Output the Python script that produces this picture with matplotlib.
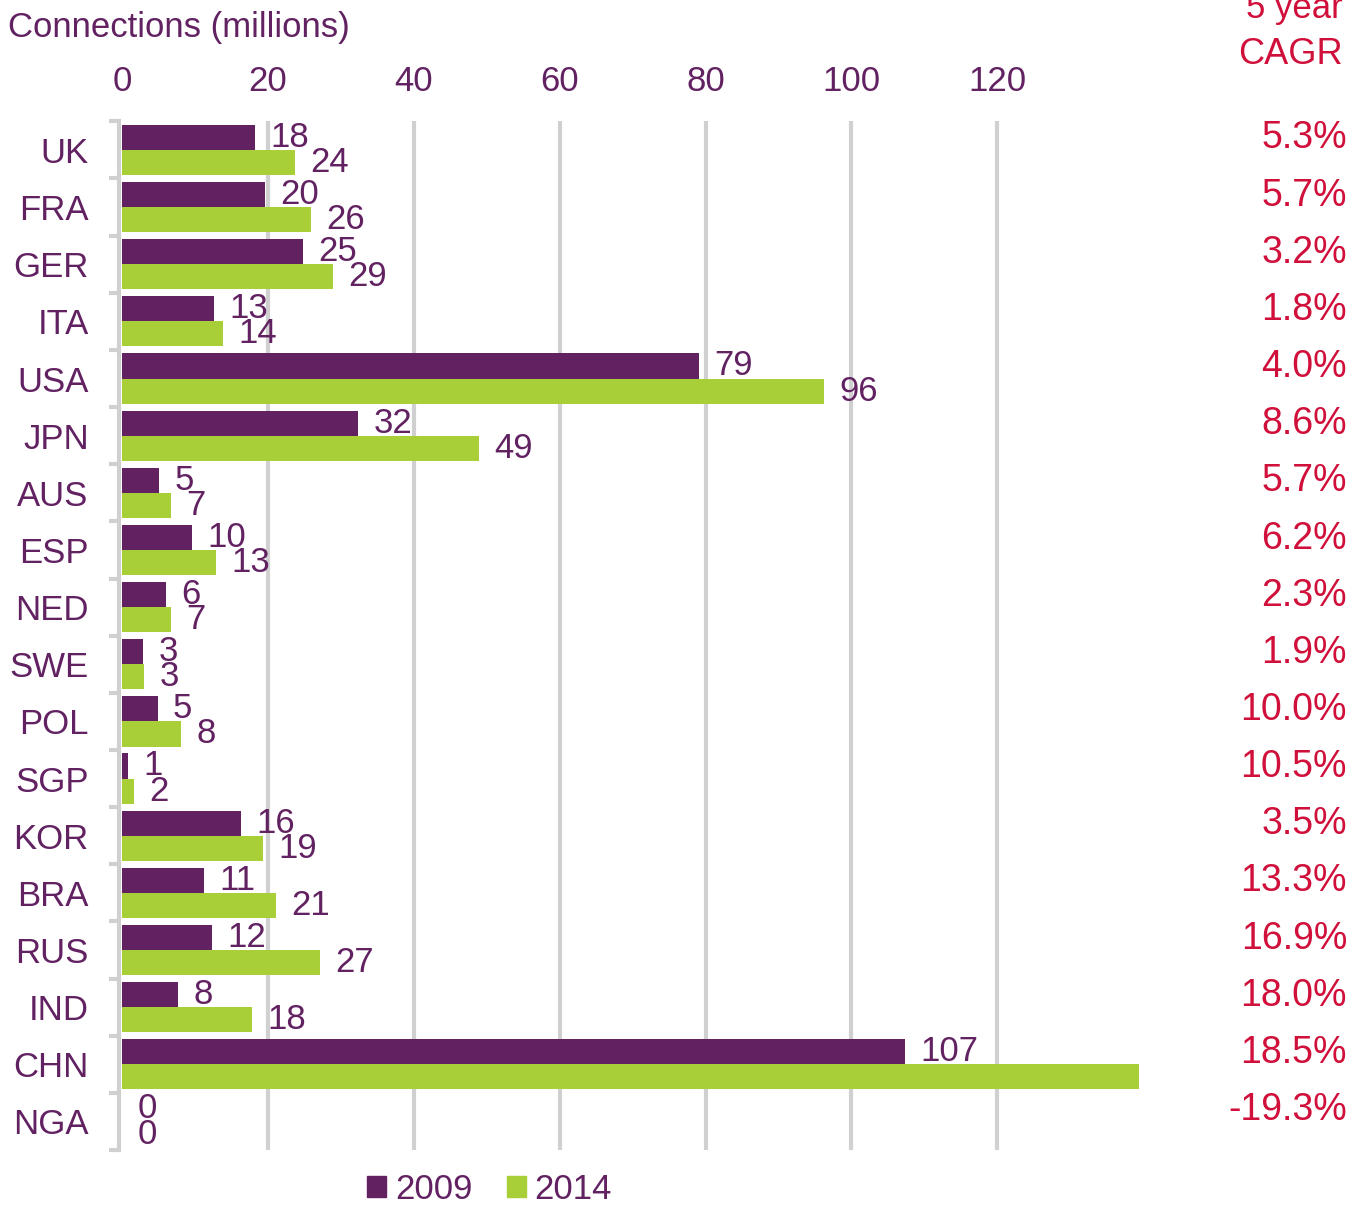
import numpy as np
import matplotlib
matplotlib.use("Agg")
import matplotlib.pyplot as plt
from matplotlib.patches import Patch

plt.rcParams['font.family'] = ['Liberation Sans', 'DejaVu Sans']

countries = ["UK", "FRA", "GER", "ITA", "USA", "JPN", "AUS", "ESP", "NED",
             "SWE", "POL", "SGP", "KOR", "BRA", "RUS", "IND", "CHN", "NGA"]
conn_2009 = [18.2, 19.6, 24.8, 12.6, 79.1, 32.4, 5.1, 9.6, 6.0,
             2.9, 4.9, 0.8, 16.3, 11.2, 12.3, 7.7, 107.4, 0.0]
conn_2014 = [23.7, 25.9, 28.9, 13.9, 96.2, 49.0, 6.7, 12.9, 6.7,
             3.0, 8.1, 1.6, 19.3, 21.1, 27.2, 17.8, 139.4, 0.0]
cagr = ["5.3%", "5.7%", "3.2%", "1.8%", "4.0%", "8.6%", "5.7%", "6.2%", "2.3%",
        "1.9%", "10.0%", "10.5%", "3.5%", "13.3%", "16.9%", "18.0%", "18.5%", "-19.3%"]
xticks = [0, 20, 40, 60, 80, 100, 120]

purple = "#622262"
green = "#A8CE38"
red = "#D0103A"
grid_gray = "#D0D0D0"

fig = plt.figure(figsize=(13.56, 12.06), dpi=100)
ax = fig.add_axes([0.090, 0.0464, 0.753, 0.853])

y = np.arange(len(countries))
h = 0.44
b1 = ax.barh(y - 0.22, conn_2009, height=h, color=purple, zorder=3)
b2 = ax.barh(y + 0.22, conn_2014, height=h, color=green, zorder=3)

# value labels; the CHN 2014 one falls outside the axes and is clipped like the original
for bars, vals in ((b1, conn_2009), (b2, conn_2014)):
    for rect, v in zip(bars, vals):
        ax.annotate(f"{v:.0f}", (rect.get_width(), rect.get_y() + rect.get_height() / 2),
                    xytext=(11, 0), textcoords="offset points", ha="left", va="center",
                    fontsize=25, color=purple, clip_on=True, zorder=4)

ax.set_xlim(0, 140)
ax.set_ylim(len(countries) - 0.5, -0.5)
ax.set_xticks(xticks)
ax.xaxis.tick_top()
ax.tick_params(axis="x", length=0, labelsize=25, labelcolor=purple, pad=17)
for t in xticks[1:]:
    ax.axvline(t, color=grid_gray, lw=3, zorder=1)

ax.set_yticks(y)
ax.set_yticklabels(countries)
ax.set_yticks(np.arange(len(countries) + 1) - 0.5, minor=True)
ax.tick_params(axis="y", which="major", length=0, labelsize=25, labelcolor=purple, pad=22)
ax.tick_params(axis="y", which="minor", length=7, width=3, color=grid_gray)

for s in ["top", "right", "bottom"]:
    ax.spines[s].set_visible(False)
ax.spines["left"].set_color(grid_gray)
ax.spines["left"].set_linewidth(3)
ax.spines["left"].set_position(("outward", 2))

for yi, c in zip(y, cagr):
    ax.text(1.0 + 204 / 1356 / 0.753, yi - 0.2, c, transform=ax.get_yaxis_transform(),
            ha="right", va="center", fontsize=27, color=red)

fig.text(0.006, 0.977, "Connections (millions)", fontsize=25, color=purple,
         ha="left", va="center")
fig.text(0.990, 0.993, "5 year", fontsize=25, color=red, ha="right", va="center")
fig.text(0.990, 0.955, "CAGR", fontsize=26, color=red, ha="right", va="center")

handles = [Patch(color=purple, label="2009"), Patch(color=green, label="2014")]
fig.legend(handles=handles, loc="center", bbox_to_anchor=(0.361, 0.014), ncol=2,
           frameon=False, fontsize=25, handlelength=0.55, handleheight=0.55,
           handletextpad=0.25, columnspacing=1.0, labelcolor=purple)

fig.savefig("out.png", dpi=100)
